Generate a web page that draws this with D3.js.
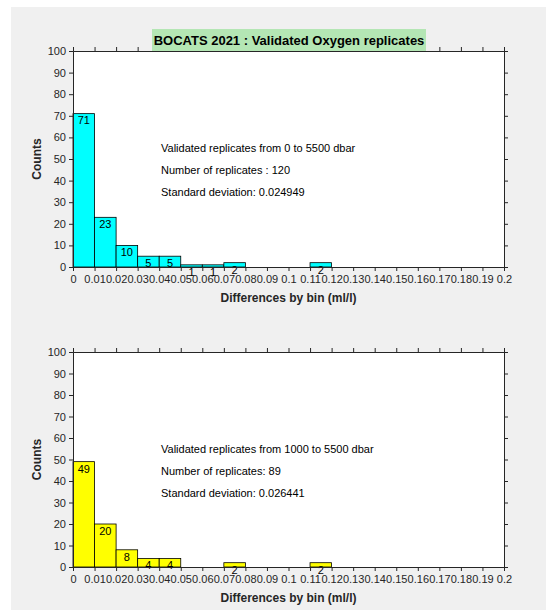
<!DOCTYPE html>
<html><head><meta charset="utf-8">
<script src="https://cdn.jsdelivr.net/npm/d3@7"></script>
<style>body{margin:0;background:#fff}svg{display:block}text{font-family:"Liberation Sans",Arial,sans-serif}</style>
</head><body>
<script>
const binStarts = [0,0.01,0.02,0.03,0.04,0.05,0.06,0.07,0.08,0.09,0.10,0.11,0.12,0.13,0.14,0.15,0.16,0.17,0.18,0.19];
const binWidth = 0.01;
const countsAll = [71,23,10,5,5,1,1,2,0,0,0,2,0,0,0,0,0,0,0,0];
const countsDeep = [49,20,8,4,4,0,0,2,0,0,0,2,0,0,0,0,0,0,0,0];
const xTicks = [0,0.01,0.02,0.03,0.04,0.05,0.06,0.07,0.08,0.09,0.1,0.11,0.12,0.13,0.14,0.15,0.16,0.17,0.18,0.19,0.2];
const xTickLabels = ["0","0.01","0.02","0.03","0.04","0.05","0.06","0.07","0.08","0.09","0.1","0.11","0.12","0.13","0.14","0.15","0.16","0.17","0.18","0.19","0.2"];
const yTicks = [0,10,20,30,40,50,60,70,80,90,100];
const title = "BOCATS 2021 : Validated Oxygen replicates";
const notesAll = ["Validated replicates from 0 to 5500 dbar","Number of replicates : 120","Standard deviation: 0.024949"];
const notesDeep = ["Validated replicates from 1000 to 5500 dbar","Number of replicates: 89","Standard deviation: 0.026441"];
const xLabel = "Differences by bin (ml/l)";
const yLabel = "Counts";

const W=546,H=610;
const svg=d3.select("body").append("svg").attr("width",W).attr("height",H);
svg.append("rect").attr("x",11).attr("y",7).attr("width",W-11).attr("height",H-7).attr("fill","#f0f0f0");

const L=73,R=504;
const x=d3.scaleLinear().domain([0,0.2]).range([L,R]);

function panel(top,bottom,counts,color,notes,noteY){
  const y=d3.scaleLinear().domain([0,100]).range([bottom,top]);
  const g=svg.append("g");
  g.append("rect").attr("x",L).attr("y",top).attr("width",R-L).attr("height",bottom-top).attr("fill","#fff");
  const data=binStarts.map((b,i)=>({b,c:counts[i]}));
  g.selectAll("rect.bar").data(data).enter().append("rect").attr("class","bar")
    .attr("x",d=>x(d.b)).attr("width",d=>x(d.b+binWidth)-x(d.b))
    .attr("y",d=>y(d.c)).attr("height",d=>y(0)-y(d.c))
    .attr("fill",color).attr("stroke","#000").attr("stroke-width",0.8);
  g.selectAll("text.lab").data(data.filter(d=>d.c>0)).enter().append("text").attr("class","lab")
    .attr("x",d=>x(d.b+binWidth/2)).attr("y",d=>y(d.c)+7).attr("dy","0.35em")
    .attr("text-anchor","middle").attr("font-size",11).attr("fill","#000").text(d=>d.c);
  const fmt=(d,i)=>xTickLabels[i];
  const ax=(gen,tr)=>{const a=g.append("g").attr("transform",tr).call(gen);
    a.selectAll("path").attr("stroke","#262626");
    a.selectAll("line").attr("stroke","#262626");
    a.selectAll("text").attr("font-size",11).attr("fill","#262626").attr("font-family","Liberation Sans, Arial, sans-serif");
    return a;};
  ax(d3.axisBottom(x).tickValues(xTicks).tickFormat(fmt).tickSizeOuter(0).tickSize(4).tickPadding(4),`translate(0,${bottom})`);
  ax(d3.axisTop(x).tickValues(xTicks).tickFormat("").tickSizeOuter(0).tickSize(4),`translate(0,${top})`);
  ax(d3.axisLeft(y).tickValues(yTicks).tickFormat(d3.format("d")).tickSizeOuter(0).tickSize(4).tickPadding(3),`translate(${L},0)`);
  ax(d3.axisRight(y).tickValues(yTicks).tickFormat("").tickSizeOuter(0).tickSize(4),`translate(${R},0)`);
  g.append("text").attr("transform",`translate(37,${(top+bottom)/2}) rotate(-90)`).attr("dy","0.35em")
    .attr("text-anchor","middle").attr("font-size",12).attr("font-weight","bold").attr("fill","#262626").text(yLabel);
  g.append("text").attr("x",(L+R)/2).attr("y",bottom+31).attr("dy","0.35em")
    .attr("text-anchor","middle").attr("font-size",12).attr("font-weight","bold").attr("fill","#262626").text(xLabel);
  notes.forEach((t,i)=>g.append("text").attr("x",161).attr("y",noteY+i*22).attr("dy","0.35em")
    .attr("font-size",11).attr("fill","#000").text(t));
}
panel(51,267,countsAll,"#00ffff",notesAll,148);
panel(352,567,countsDeep,"#ffff00",notesDeep,449.5);

svg.append("rect").attr("x",152).attr("y",29).attr("width",274).attr("height",22).attr("fill","#b4e6b4");
svg.append("text").attr("x",289).attr("y",40.5).attr("dy","0.35em").attr("text-anchor","middle")
  .attr("font-size",13).attr("font-weight","bold").attr("fill","#000").text(title);
</script>
</body></html>
